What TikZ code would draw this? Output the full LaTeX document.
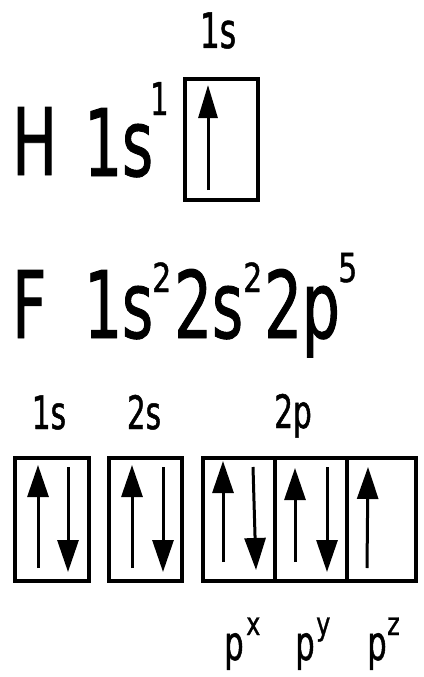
\documentclass[tikz,border=0pt]{standalone}
\usepackage{fontspec}
\newfontfamily\vf[FakeStretch=0.64,FakeBold=1]{DejaVu Sans}
\newfontfamily\vs[FakeStretch=0.75,FakeBold=1]{DejaVu Sans}
\usetikzlibrary{arrows.meta}
\tikzset{
  big/.style={inner sep=0pt, anchor=base west, font=\vf\fontsize{93}{93}\selectfont},
  supr/.style={inner sep=0pt, anchor=base west, font=\vs\fontsize{40}{40}\selectfont},
  lab/.style={inner sep=0pt, anchor=base, font=\vf\fontsize{46}{46}\selectfont},
  plab/.style={inner sep=0pt, anchor=base west, font=\vf\fontsize{48}{48}\selectfont},
  psup/.style={inner sep=0pt, anchor=base west, font=\vs\fontsize{32}{32}\selectfont},
  orb/.style={draw, line width=3.8pt, minimum height=123pt, inner sep=0pt},
  spin/.style={line width=3pt, -{Triangle[width=21pt,length=32pt]}},
}
\begin{document}
\begin{tikzpicture}[x=1pt,y=-1pt]
\useasboundingbox (0,0) rectangle (423,677);
% Hydrogen
\node[big] (H) at (12,175) {H};
\node[big] (H1s) at (84,176) {1s};
\node[inner sep=0pt, anchor=base west, font=\vf\fontsize{45}{45}\selectfont] (Hsup) at (150,115) {1};
\node[lab, font=\vf\fontsize{49}{49}\selectfont] (Hlab) at (218,48) {1s};
\node[orb, minimum width=73pt, minimum height=121pt, line width=4pt] (Hbox) at (221.5,139.5) {};
\coordinate (Ha) at (208,190); \coordinate (Hb) at (208,85);
\draw[spin, -{Triangle[width=19pt,length=33pt]}] (Ha) -- (Hb);
% Fluorine
\node[big] (F) at (12,338) {F};
\node[big] (F1s) at (84,338) {1s};
\node[supr] (s1) at (152,292) {2};
\node[big] (F2s) at (174,338) {2s};
\node[supr] (s2) at (243,292) {2};
\node[big] (F2p) at (264,338) {2p};
\node[supr] (s3) at (338,282) {5};
% labels
\node[lab] (l1) at (49,429) {1s};
\node[lab] (l2) at (144,429) {2s};
\node[lab] (l3) at (293,428) {2p};
% boxes
\node[orb, minimum width=74pt] (b1) at (52,519.5) {};
\node[orb, minimum width=73pt] (b2) at (145.5,519.5) {};
\node[orb, minimum width=72pt] (bx) at (239,519.5) {};
\node[orb, minimum width=72pt] (by) at (311,519.5) {};
\node[orb, minimum width=69pt] (bz) at (381.5,519.5) {};
% spins
\coordinate (a1) at (38,568); \coordinate (a2) at (38,465);
\coordinate (a3) at (68,467); \coordinate (a4) at (68,572);
\coordinate (c1) at (132,568); \coordinate (c2) at (132,465);
\coordinate (c3) at (163,467); \coordinate (c4) at (163,572);
\coordinate (x1) at (223,562); \coordinate (x2) at (223,461);
\coordinate (x3) at (253,467); \coordinate (x4) at (256,570);
\coordinate (y1) at (295,562); \coordinate (y2) at (295,468);
\coordinate (y3) at (327,467); \coordinate (y4) at (327,572);
\coordinate (z1) at (367,568); \coordinate (z2) at (368,467);
\draw[spin] (a1) -- (a2);
\draw[spin] (a3) -- (a4);
\draw[spin] (c1) -- (c2);
\draw[spin] (c3) -- (c4);
\draw[spin] (x1) -- (x2);
\draw[spin] (x3) -- (x4);
\draw[spin] (y1) -- (y2);
\draw[spin] (y3) -- (y4);
\draw[spin] (z1) -- (z2);
% p labels
\node[plab] (px) at (224,660) {p};
\node[psup] (pxs) at (246,635) {x};
\node[plab] (py) at (295,660) {p};
\node[psup] (pys) at (316,635) {y};
\node[plab] (pz) at (367,660) {p};
\node[psup] (pzs) at (387,635) {z};
\end{tikzpicture}
\end{document}
